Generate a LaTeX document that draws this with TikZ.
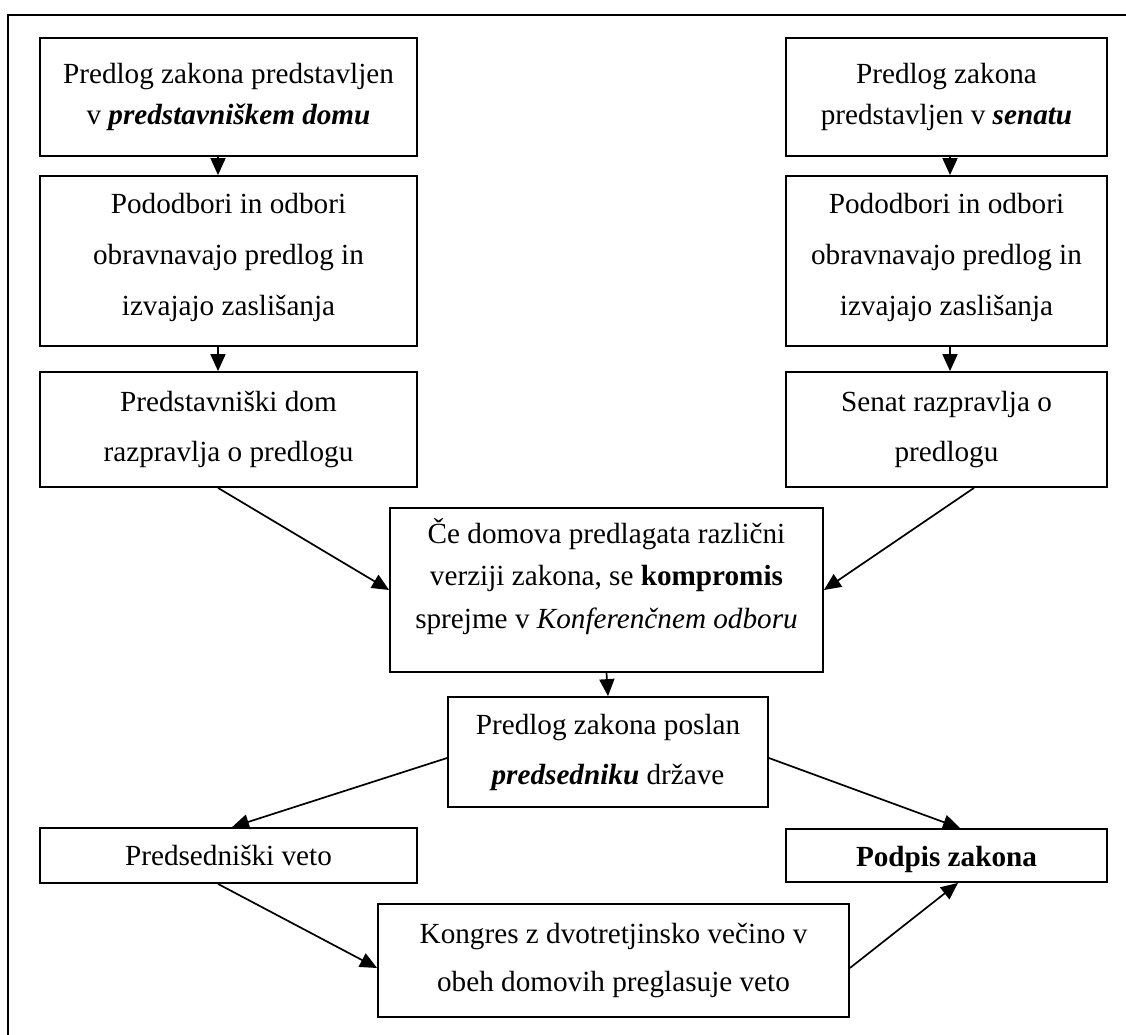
\documentclass[tikz,border=0pt]{standalone}
\usepackage{fontspec}
\setmainfont{Liberation Serif}
\usetikzlibrary{arrows.meta}
\tikzset{
  box/.style={draw, line width=1.8pt, align=center, inner sep=0pt},
  fs/.style={font=\fontsize{29.2pt}{#1 pt}\selectfont},
  conn/.style={line width=1.7pt, -{Triangle[length=17pt,width=15pt]}},
  frame/.style={line width=2.4pt}
}
\begin{document}
\begin{tikzpicture}[x=1pt,y=-1pt]
\useasboundingbox (0,0) rectangle (1126,1035);
\coordinate (fb) at (8,1035);
\coordinate (fc) at (8,15);
\coordinate (fr) at (1126,15);
\draw[frame] (fb) -- (fc) -- (fr);

\node[box, fs=41, minimum width=377pt, minimum height=118pt] (L1) at (228.5,97)
  {Predlog zakona predstavljen\\v \textbf{\textit{predstavniškem domu}}};
\node[box, fs=51, minimum width=377pt, minimum height=170pt] (L2) at (228.5,261)
  {Pododbori in odbori\\obravnavajo predlog in\\izvajajo zaslišanja\rule[-14pt]{0pt}{0pt}};
\node[box, fs=50, minimum width=377pt, minimum height=115pt] (L3) at (228.5,429.5)
  {Predstavniški dom\\razpravlja o predlogu};

\node[box, fs=41, minimum width=321pt, minimum height=118pt] (R1) at (946.5,97)
  {Predlog zakona\\predstavljen v \textbf{\textit{senatu}}};
\node[box, fs=51, minimum width=321pt, minimum height=170pt] (R2) at (946.5,261)
  {Pododbori in odbori\\obravnavajo predlog in\\izvajajo zaslišanja\rule[-14pt]{0pt}{0pt}};
\node[box, fs=50, minimum width=321pt, minimum height=115pt] (R3) at (946.5,429.5)
  {Senat razpravlja o\\predlogu};

\node[box, fs=42.5, minimum width=433pt, minimum height=164pt] (C) at (606.5,590)
  {Če domova predlagata različni\\verziji zakona, se \textbf{kompromis}\\sprejme v \textit{Konferenčnem odboru}\rule[-34pt]{0pt}{0pt}};

\node[box, fs=50, minimum width=320pt, minimum height=110pt] (P) at (608,752)
  {Predlog zakona poslan\\\textbf{\textit{predsedniku}} države};

\node[box, fs=50, minimum width=377pt, minimum height=55pt] (V) at (228.5,855.5)
  {Predsedniški veto};
\node[box, fs=50, minimum width=321pt, minimum height=53pt] (S) at (946.5,855.5)
  {\rule{0pt}{29pt}\textbf{Podpis zakona}};

\node[box, fs=48, minimum width=471pt, minimum height=113pt] (K) at (613.5,960.5)
  {Kongres z dvotretjinsko večino v\\obeh domovih preglasuje veto};

\draw[conn] ([xshift=-10.5pt]L1.south) -- ([xshift=-10.5pt]L2.north);
\draw[conn] ([xshift=-10.5pt]L2.south) -- ([xshift=-10.5pt]L3.north);
\draw[conn] ([xshift=3.5pt]R1.south) -- ([xshift=3.5pt]R2.north);
\draw[conn] ([xshift=3.5pt]R2.south) -- ([xshift=3.5pt]R3.north);
\draw[conn] ([xshift=-10.5pt]L3.south) -- (C.west);
\draw[conn] ([xshift=27.5pt]R3.south) -- (C.east);
\draw[conn] (C.south) -- (P.north);
\draw[conn] ([yshift=-6pt]P.west) -- ([xshift=3.5pt]V.north);
\draw[conn] ([yshift=-6pt]P.east) -- ([xshift=13.5pt]S.north);
\draw[conn] ([xshift=-10.5pt]V.south) -- ([yshift=-7.5pt]K.west);
\draw[conn] ([yshift=-7.5pt]K.east) -- ([xshift=11.5pt]S.south);
\end{tikzpicture}
\end{document}
